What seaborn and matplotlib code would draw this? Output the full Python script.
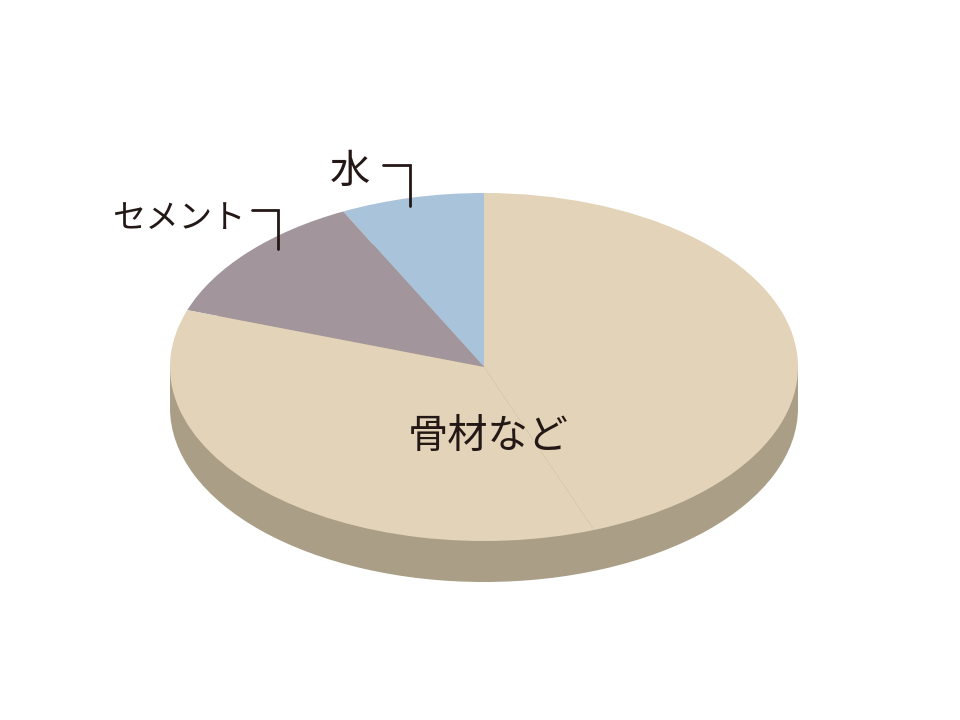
import matplotlib
matplotlib.use("Agg")
import matplotlib.pyplot as plt
import seaborn as sns

labels = ["水", "セメント", "骨材など"]
slice_values = [7.4, 12.3, 36.0, 44.3]
top_colors = ["#A9C3DB", "#A2959C", "#E3D3B8", "#E3D3B8"]
side_color = "#AA9E86"

sns.set_theme(style="white")
plt.rcParams["font.family"] = ["Noto Sans CJK JP", "DejaVu Sans"]

W, H = 960, 720
CX, CY, RX, RY, DEPTH = 484, 367, 314, 174, 41

fig, ax = plt.subplots(figsize=(W / 100, H / 100), dpi=100)
ax.set_position([0, 0, 1, 1])
d = DEPTH / RY

ax.pie([sum(slice_values)], colors=[side_color], startangle=90,
       center=(0, -d), radius=1, wedgeprops=dict(linewidth=0))
ax.fill_between([-1, 1], [-d, -d], [0, 0], color=side_color, linewidth=0)
ax.pie(slice_values, colors=top_colors, startangle=90, counterclock=True,
       center=(0, 0), radius=1, wedgeprops=dict(linewidth=0))

ax.set_aspect("auto")
ax.set_xlim(-CX / RX, (W - CX) / RX)
ax.set_ylim((CY - H) / RY, CY / RY)
ax.axis("off")

def px(x, y):
    return (x - CX) / RX, (CY - y) / RY

ink = "#231815"
for path in ([(383, 165), (410, 165), (410, 206)], [(252, 210), (278, 210), (278, 249)]):
    pts = [px(*p) for p in path]
    ax.plot([p[0] for p in pts], [p[1] for p in pts], color=ink, lw=2.0,
            solid_joinstyle="miter", zorder=5)

ax.text(*px(350, 171), labels[0], fontsize=29, color=ink, ha="center", va="center", zorder=5)
ax.text(*px(179, 219), labels[1], fontsize=24, color=ink, ha="center", va="center", zorder=5)
ax.text(*px(488, 436), labels[2], fontsize=29, color=ink, ha="center", va="center", zorder=5)

fig.savefig("out.png", dpi=100, facecolor="white")
